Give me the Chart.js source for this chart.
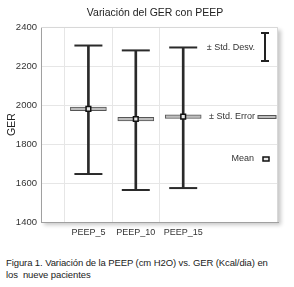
<!DOCTYPE html>
<html>
<head>
<meta charset="utf-8">
<script src="https://cdn.jsdelivr.net/npm/chart.js@4/dist/chart.umd.min.js"></script>
<style>
  body { margin: 0; background: #fff; }
  #wrap { position: relative; width: 294px; height: 287px; }
  #caption {
    position: absolute; left: 6px; top: 257px; width: 286px;
    font: 9.5px "Liberation Sans", Arial, sans-serif; line-height: 12px; color: #222;
    letter-spacing: -0.1px;
  }
</style>
</head>
<body>
<div id="wrap">
  <canvas id="chart" width="294" height="240"></canvas>
  <div id="caption">Figura 1. Variación de la PEEP (cm H2O) vs. GER (Kcal/dia) en<br>los &nbsp;nueve pacientes</div>
</div>
<script>
// datos
const categories = ["PEEP_5", "PEEP_10", "PEEP_15"];
const means = [1980, 1928, 1940];
const sdHigh = [2305, 2280, 2295];
const sdLow = [1646, 1564, 1574];
const seHalf = [9, 9, 9];
const yTicks = [1400, 1600, 1800, 2000, 2200, 2400];

// eje x con huecos: uno antes, dos al final para la leyenda
const labels = ["", ...categories, "", ""];
const pad = (arr) => [null, ...arr, null, null];

const sdBars = pad(categories.map((c, i) => [sdLow[i], sdHigh[i]]));
const seBars = pad(categories.map((c, i) => [means[i] - seHalf[i], means[i] + seHalf[i]]));

const FONT = "'Liberation Sans', Arial, sans-serif";

// marco con sombra, título y leyenda
const framePlugin = {
  id: "frame",
  beforeDraw(chart) {
    const { ctx, chartArea: a } = chart;
    ctx.save();
    ctx.shadowColor = "rgba(0,0,0,0.22)";
    ctx.shadowBlur = 4;
    ctx.shadowOffsetX = 3;
    ctx.shadowOffsetY = 3;
    ctx.fillStyle = "#fff";
    ctx.fillRect(a.left, a.top, a.right - a.left, a.bottom - a.top);
    ctx.restore();
  },
  afterDraw(chart) {
    const { ctx, chartArea: a } = chart;
    ctx.save();
    ctx.strokeStyle = "#d8d8d8";
    ctx.lineWidth = 1;
    ctx.beginPath();
    ctx.moveTo(a.left, a.top + 0.5);
    ctx.lineTo(a.right - 0.5, a.top + 0.5);
    ctx.lineTo(a.right - 0.5, a.bottom);
    ctx.stroke();

    // título
    ctx.fillStyle = "#222";
    ctx.font = "10.5px " + FONT;
    ctx.textAlign = "center";
    ctx.textBaseline = "middle";
    ctx.fillText("Variación del GER con PEEP", 155, 13);

    // leyenda
    ctx.font = "9px " + FONT;
    ctx.fillStyle = "#333";
    ctx.textAlign = "right";
    ctx.fillText("± Std. Desv.", 255, 48);
    ctx.fillText("± Std. Error", 255, 117);
    ctx.fillText("Mean", 254, 159);

    ctx.strokeStyle = "#222";
    ctx.lineWidth = 2;
    ctx.beginPath();
    ctx.moveTo(265, 33); ctx.lineTo(265, 61);
    ctx.moveTo(261, 33); ctx.lineTo(269, 33);
    ctx.moveTo(261, 61); ctx.lineTo(269, 61);
    ctx.stroke();

    ctx.lineWidth = 1;
    ctx.fillStyle = "#bdbdbd";
    ctx.strokeStyle = "#555";
    ctx.fillRect(258, 115.5, 18, 3);
    ctx.strokeRect(258, 115.5, 18, 3);

    ctx.fillStyle = "#e8e8e8";
    ctx.strokeStyle = "#111";
    ctx.lineWidth = 1.5;
    ctx.fillRect(263, 157, 6, 4);
    ctx.strokeRect(263, 157, 6, 4);
    ctx.restore();
  }
};

new Chart(document.getElementById("chart"), {
  data: {
    labels: labels,
    datasets: [
      {
        type: "bar", label: "sd", data: sdBars, order: 4,
        grouped: false, barThickness: 2, backgroundColor: "#2a2a2a", borderWidth: 0
      },
      {
        type: "line", label: "sdHigh", data: pad(sdHigh), order: 3, showLine: false,
        pointStyle: "line", pointRadius: 14, pointBorderWidth: 2, borderColor: "#2a2a2a"
      },
      {
        type: "line", label: "sdLow", data: pad(sdLow), order: 3, showLine: false,
        pointStyle: "line", pointRadius: 14, pointBorderWidth: 2, borderColor: "#2a2a2a"
      },
      {
        type: "bar", label: "se", data: seBars, order: 2,
        grouped: false, barThickness: 36, backgroundColor: "#bdbdbd",
        borderColor: "#555", borderWidth: 1, borderSkipped: false
      },
      {
        type: "line", label: "mean", data: pad(means), order: 1, showLine: false,
        pointStyle: "rect", pointRadius: 3.3, pointBorderWidth: 1.5,
        pointBackgroundColor: "#e8e8e8", pointBorderColor: "#111"
      }
    ]
  },
  options: {
    responsive: false,
    animation: false,
    layout: { padding: { left: 0, right: 13, top: 27, bottom: 0 } },
    plugins: { legend: { display: false }, tooltip: { enabled: false }, title: { display: false } },
    scales: {
      x: {
        type: "category",
        offset: false,
        afterFit: (s) => { s.height = 18; },
        grid: {
          drawTicks: false,
          color: (c) => (c.index >= 1 && c.index <= categories.length ? "#e6e6e6" : "rgba(0,0,0,0)")
        },
        border: { color: "#a0a0a0" },
        ticks: {
          padding: 5, autoSkip: false, maxRotation: 0,
          color: "#333", font: { family: FONT, size: 9 }
        }
      },
      y: {
        min: yTicks[0], max: yTicks[yTicks.length - 1],
        afterFit: (s) => { s.width = 41; },
        afterBuildTicks: (s) => { s.ticks = yTicks.map((v) => ({ value: v })); },
        grid: { drawTicks: false, color: "#e6e6e6" },
        border: { color: "#a0a0a0" },
        ticks: {
          padding: 4, color: "#333", font: { family: FONT, size: 9.5 },
          callback: (v) => String(v)
        },
        title: {
          display: true, text: "GER", color: "#222",
          font: { family: FONT, size: 10.5 }, padding: { top: 6, bottom: 0 }
        }
      }
    }
  },
  plugins: [framePlugin]
});
</script>
</body>
</html>
